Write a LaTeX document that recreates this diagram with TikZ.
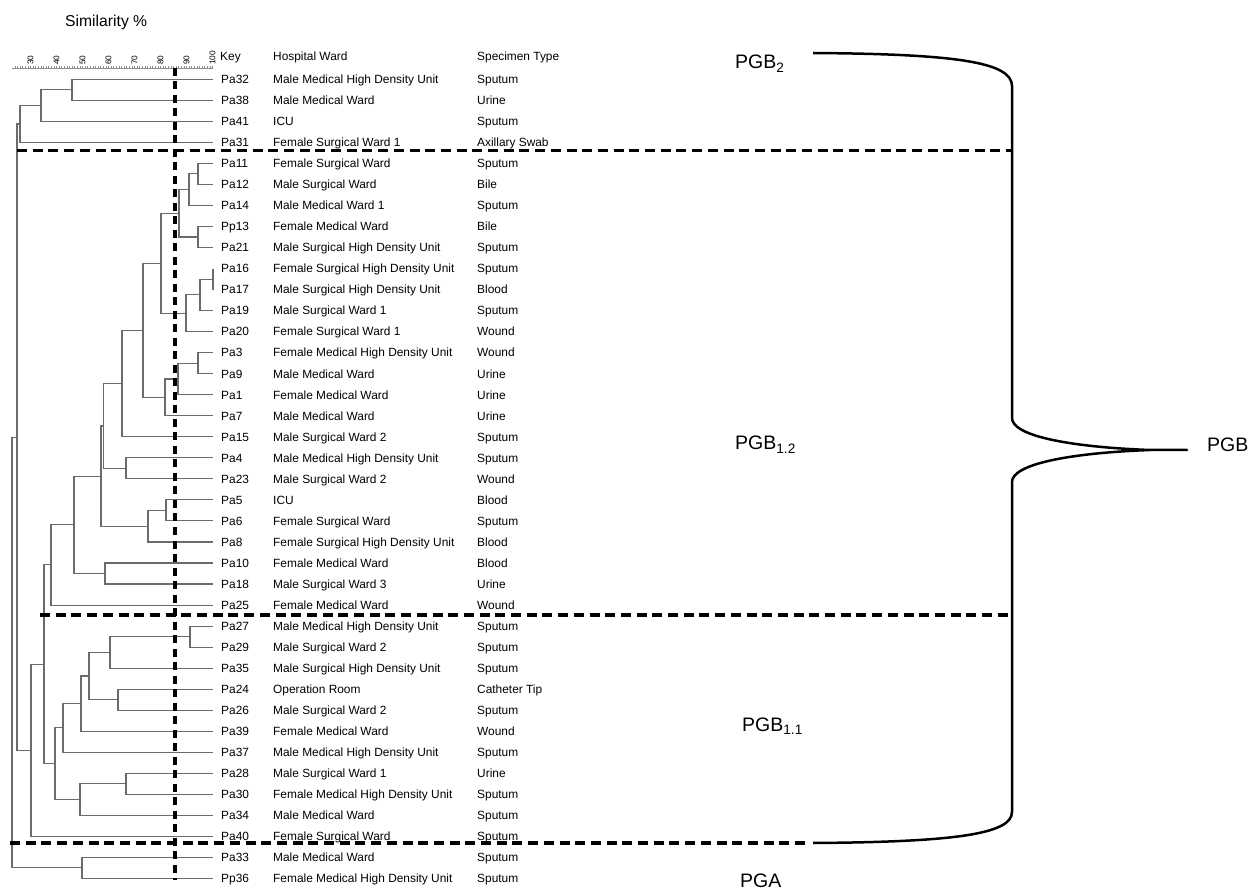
\documentclass[tikz,border=0pt]{standalone}
\usepackage{fontspec}
\setmainfont{Liberation Sans}
\usetikzlibrary{calc}
\newcommand\dendjoin[4]{%
  \coordinate (#1m) at ($(#3)!0.5!(#4)$);
  \coordinate (#1) at (#2,0 |- #1m);
  \draw[dend] (#3) -| (#1) |- (#4);}
\begin{document}
\begin{tikzpicture}[x=1pt,y=-1pt,
  dend/.style={draw=black!58, line width=1.1pt},
  cut/.style={draw=black, line width=3.2pt, dash pattern=on 10pt off 5.7pt},
  vcut/.style={draw=black, line width=3.2pt, dash pattern=on 8pt off 5.5pt},
  bracestyle/.style={draw=black, line width=2.5pt},
  row/.style={anchor=base west, inner sep=0pt, font=\fontsize{11.9}{13}\selectfont},
  grp/.style={anchor=base west, inner sep=0pt, font=\fontsize{19.5}{22}\selectfont},
  ticklab/.style={rotate=90, anchor=west, inner sep=0pt, font=\fontsize{8.3}{9}\selectfont},
  axisline/.style={draw=black!45, line width=0.7pt}]
\useasboundingbox (0,0) rectangle (1259,890);
% title
\node[anchor=base west, inner sep=0pt, font=\fontsize{15.7}{18}\selectfont] (title) at (65,27) {Similarity \%};
% axis
\coordinate (ax0) at (12,68);
\coordinate (ax1) at (213,68);
\draw[axisline] (ax0) -- (ax1);
\foreach \p in {24,...,100} {
  \coordinate (tk\p) at ({212.5-(100-\p)*2.6},68);
  \draw[axisline] (tk\p) -- ++(0,-2);
}
\foreach \p in {30,40,...,100} {
  \node[ticklab] (tl\p) at ({212.5-(100-\p)*2.6},65) {\p};
}
% header
\node[row] (hkey) at (220,61) {Key};
\node[row] (hward) at (273,61) {Hospital Ward};
\node[row] (hspec) at (477,61) {Specimen Type};
% rows
\foreach \id/\ward/\spec [count=\i from 0] in {
 Pa32/Male Medical High Density Unit/Sputum,
 Pa38/Male Medical Ward/Urine,
 Pa41/ICU/Sputum,
 Pa31/Female Surgical Ward 1/Axillary Swab,
 Pa11/Female Surgical Ward/Sputum,
 Pa12/Male Surgical Ward/Bile,
 Pa14/Male Medical Ward 1/Sputum,
 Pp13/Female Medical Ward/Bile,
 Pa21/Male Surgical High Density Unit/Sputum,
 Pa16/Female Surgical High Density Unit/Sputum,
 Pa17/Male Surgical High Density Unit/Blood,
 Pa19/Male Surgical Ward 1/Sputum,
 Pa20/Female Surgical Ward 1/Wound,
 Pa3/Female Medical High Density Unit/Wound,
 Pa9/Male Medical Ward/Urine,
 Pa1/Female Medical Ward/Urine,
 Pa7/Male Medical Ward/Urine,
 Pa15/Male Surgical Ward 2/Sputum,
 Pa4/Male Medical High Density Unit/Sputum,
 Pa23/Male Surgical Ward 2/Wound,
 Pa5/ICU/Blood,
 Pa6/Female Surgical Ward/Sputum,
 Pa8/Female Surgical High Density Unit/Blood,
 Pa10/Female Medical Ward/Blood,
 Pa18/Male Surgical Ward 3/Urine,
 Pa25/Female Medical Ward/Wound,
 Pa27/Male Medical High Density Unit/Sputum,
 Pa29/Male Surgical Ward 2/Sputum,
 Pa35/Male Surgical High Density Unit/Sputum,
 Pa24/Operation Room/Catheter Tip,
 Pa26/Male Surgical Ward 2/Sputum,
 Pa39/Female Medical Ward/Wound,
 Pa37/Male Medical High Density Unit/Sputum,
 Pa28/Male Surgical Ward 1/Urine,
 Pa30/Female Medical High Density Unit/Sputum,
 Pa34/Male Medical Ward/Sputum,
 Pa40/Female Surgical Ward/Sputum,
 Pa33/Male Medical Ward/Sputum,
 Pp36/Female Medical High Density Unit/Sputum} {
  \pgfmathsetmacro\yy{79.3+21.03*\i}
  \coordinate (\id) at (213,\yy);
  \node[row] (t\id) at (221,\yy+4.3) {\id};
  \node[row] (w\id) at (273,\yy+4.3) {\ward};
  \node[row] (s\id) at (477,\yy+4.3) {\spec};
}
% dendrogram: PGB2
\dendjoin{a1}{72}{Pa32}{Pa38}
\dendjoin{a2}{41}{a1}{Pa41}
\dendjoin{a3}{20}{a2}{Pa31}
% PGB1.2
\dendjoin{g1a}{198}{Pa11}{Pa12}
\dendjoin{g1}{189}{g1a}{Pa14}
\dendjoin{g2}{198}{Pp13}{Pa21}
\dendjoin{g12}{179}{g1}{g2}
\dendjoin{g3a}{213}{Pa16}{Pa17}
\dendjoin{g3b}{200}{g3a}{Pa19}
\dendjoin{g3}{186}{g3b}{Pa20}
\dendjoin{g123}{161}{g12}{g3}
\dendjoin{g4a}{198}{Pa3}{Pa9}
\dendjoin{g4b}{178}{g4a}{Pa1}
\dendjoin{g4}{165}{g4b}{Pa7}
\dendjoin{h1}{143}{g123}{g4}
\dendjoin{h2}{122}{h1}{Pa15}
\dendjoin{g6}{126}{Pa4}{Pa23}
\dendjoin{h3}{103.5}{h2}{g6}
\dendjoin{g5a}{166}{Pa5}{Pa6}
\dendjoin{g5}{148}{g5a}{Pa8}
\dendjoin{h4}{101}{h3}{g5}
\dendjoin{g7}{105}{Pa10}{Pa18}
\dendjoin{h5}{74}{h4}{g7}
\dendjoin{h6}{51}{h5}{Pa25}
% PGB1.1
\dendjoin{k1}{190}{Pa27}{Pa29}
\dendjoin{k2}{110}{k1}{Pa35}
\dendjoin{k3}{118}{Pa24}{Pa26}
\dendjoin{k4}{89}{k2}{k3}
\dendjoin{k5}{81}{k4}{Pa39}
\dendjoin{k6}{63}{k5}{Pa37}
\dendjoin{k7}{126}{Pa28}{Pa30}
\dendjoin{k8}{80}{k7}{Pa34}
\dendjoin{k9}{55}{k6}{k8}
\dendjoin{h7}{44}{h6}{k9}
\dendjoin{h8}{31}{h7}{Pa40}
\dendjoin{h9}{17}{a3}{h8}
% PGA and root
\dendjoin{pga}{82}{Pa33}{Pp36}
\dendjoin{root}{12}{h9}{pga}
% cut lines
\coordinate (v0) at (175,68);
\coordinate (v1) at (175,880);
\draw[vcut] (v0) -- (v1);
\coordinate (c1a) at (17,150.7);
\coordinate (c1b) at (1012,150.7);
\draw[cut] (c1a) -- (c1b);
\coordinate (c2a) at (40,615);
\coordinate (c2b) at (1012,615);
\draw[cut] (c2a) -- (c2b);
\coordinate (c3a) at (10,843);
\coordinate (c3b) at (808,843);
\draw[cut] (c3a) -- (c3b);
% brace
\coordinate (bt) at (813,53);
\coordinate (bT) at (1012,86);
\coordinate (bm1) at (1012,418);
\coordinate (tip) at (1187,450);
\coordinate (bm2) at (1012,482);
\coordinate (bB) at (1012,812);
\coordinate (bb) at (813,843);
\draw[bracestyle, line join=round] (bt) .. controls (955,54) and (1012,62) .. (bT) -- (bm1)
  .. controls (1012,436) and (1070,447) .. (1150,450) -- (tip)
  -- (1150,450) .. controls (1070,453) and (1012,464) .. (bm2) -- (bB)
  .. controls (1012,834) and (955,842) .. (bb);
% group labels
\node[grp] (lpgb2) at (735,69) {PGB\textsubscript{2}};
\node[grp] (lpgb12) at (735,450) {PGB\textsubscript{1.2}};
\node[grp] (lpgb11) at (742,731) {PGB\textsubscript{1.1}};
\node[grp] (lpga) at (740,887) {PGA};
\node[grp] (lpgb) at (1207,452) {PGB};
\end{tikzpicture}
\end{document}
